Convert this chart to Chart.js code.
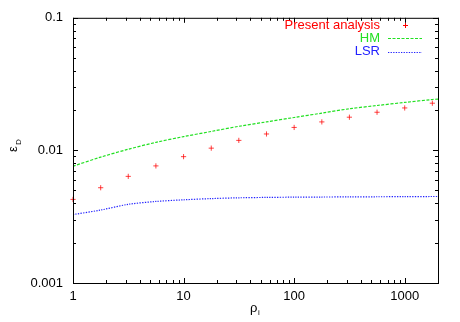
<!DOCTYPE html>
<html>
<head>
<meta charset="utf-8">
<script src="https://cdn.jsdelivr.net/npm/chart.js@4/dist/chart.umd.min.js"></script>
<style>
  html, body { margin: 0; padding: 0; background: #fff; }
  #wrap { width: 460px; height: 322px; position: relative; }
</style>
</head>
<body>
<div id="wrap"><canvas id="chart"></canvas></div>
<script>
// ── data ────────────────────────────────────────────────────────
const presentX = [1, 1.78, 3.16, 5.62, 10, 17.8, 31.6, 56.2, 100, 178, 316, 562, 1000, 1778];
const presentVals = [0.00427, 0.00523, 0.00637, 0.00764, 0.00897, 0.0104, 0.0119, 0.0133, 0.0149, 0.0164, 0.0178, 0.0194, 0.0209, 0.0227];

const modelX = [1, 1.78, 3.16, 5.62, 10, 17.8, 31.6, 56.2, 100, 178, 316, 562, 1000, 1778, 2000];
const hmVals = [0.0076, 0.0089, 0.0102, 0.0115, 0.0127, 0.0139, 0.0152, 0.0164, 0.0177, 0.0191, 0.0206, 0.0218, 0.0230, 0.0242, 0.0244];
const lsrVals = [0.00328, 0.00355, 0.00392, 0.00412, 0.00424, 0.00433, 0.00439, 0.00442, 0.00444, 0.00445, 0.00446, 0.00447, 0.00448, 0.00449, 0.00449];

const xTicks = [1, 10, 100, 1000];
const yTicks = [0.001, 0.01, 0.1];
const seriesLabels = ['Present analysis', 'HM', 'LSR'];

const FONT = 'Liberation Sans, Arial, Helvetica, sans-serif';

const zip = (xs, ys) => xs.map((x, i) => ({ x, y: ys[i] }));

// gnuplot style frame: box, inward major/minor ticks on all sides
const framePlugin = {
  id: 'frame',
  afterDatasetsDraw(chart) {
    const { ctx, chartArea: a, scales } = chart;
    const xs = scales.x, ys = scales.y;
    ctx.save();
    ctx.strokeStyle = '#000';
    ctx.lineWidth = 1;
    ctx.strokeRect(a.left + 0.5, a.top + 0.5, a.right - a.left, a.bottom - a.top);
    ctx.beginPath();
    for (let d = 1; d <= 1000; d *= 10) {
      for (let m = 1; m <= 9; m++) {
        const v = m * d;
        if (v > xs.max) break;
        const len = m === 1 ? 5 : 3;
        const px = Math.round(xs.getPixelForValue(v)) + 0.5;
        ctx.moveTo(px, a.bottom); ctx.lineTo(px, a.bottom - len);
        ctx.moveTo(px, a.top); ctx.lineTo(px, a.top + len);
      }
    }
    for (let d = 0.001; d <= 0.1 + 1e-9; d *= 10) {
      for (let m = 1; m <= 9; m++) {
        const v = m * d;
        if (v > ys.max * 1.0001) break;
        const len = m === 1 ? 5 : 3;
        const py = Math.round(ys.getPixelForValue(v)) + 0.5;
        ctx.moveTo(a.left, py); ctx.lineTo(a.left + len, py);
        ctx.moveTo(a.right, py); ctx.lineTo(a.right - len, py);
      }
    }
    ctx.stroke();

    // axis titles with subscripts
    ctx.fillStyle = '#000';
    ctx.textBaseline = 'alphabetic';
    ctx.font = '13px ' + FONT;
    ctx.fillText('ρ', 250, 312);
    ctx.font = '8px ' + FONT;
    ctx.fillText('i', 258, 315);

    ctx.translate(17, 152);
    ctx.rotate(-Math.PI / 2);
    ctx.font = '13px ' + FONT;
    ctx.fillText('ε', 0, 0);
    ctx.font = '8px ' + FONT;
    ctx.fillText('D', 7, 4);
    ctx.restore();
  },
  afterDraw(chart) {
    const { ctx } = chart;
    ctx.save();
    ctx.font = '13px ' + FONT;
    ctx.textAlign = 'right';
    ctx.textBaseline = 'middle';
    chart.data.datasets.forEach((ds, i) => {
      const y = 25 + i * 13.3;
      ctx.fillStyle = ds.legendColor;
      ctx.fillText(ds.label, 380, y);
      ctx.strokeStyle = ds.legendColor;
      ctx.lineWidth = 1;
      ctx.beginPath();
      if (ds.showLine === false) {
        ctx.moveTo(403, Math.round(y) + 0.5); ctx.lineTo(408, Math.round(y) + 0.5);
        ctx.moveTo(405.5, Math.round(y) - 2); ctx.lineTo(405.5, Math.round(y) + 3);
      } else {
        ctx.setLineDash(ds.borderDash || []);
        ctx.moveTo(388, Math.round(y) + 0.5); ctx.lineTo(422, Math.round(y) + 0.5);
      }
      ctx.stroke();
      ctx.setLineDash([]);
    });
    ctx.restore();
  },
};

new Chart(document.getElementById('chart'), {
  type: 'scatter',
  data: {
    datasets: [
      { label: seriesLabels[0], data: zip(presentX, presentVals), showLine: false, clip: 6,
        pointStyle: 'cross', pointRadius: 2.6, borderColor: 'rgba(255,0,0,0.75)', backgroundColor: 'rgba(255,0,0,0.75)',
        borderWidth: 1, legendColor: '#ff0000' },
      { label: seriesLabels[1], data: zip(modelX, hmVals), showLine: true, pointRadius: 0,
        borderColor: '#22e022', borderWidth: 1.2, borderDash: [3, 1.5], tension: 0.3, legendColor: '#22e022' },
      { label: seriesLabels[2], data: zip(modelX, lsrVals), showLine: true, pointRadius: 0,
        borderColor: '#2222ff', borderWidth: 1.2, borderDash: [1.3, 1.3], tension: 0.3, legendColor: '#2222ff' },
    ],
  },
  options: {
    responsive: true, maintainAspectRatio: false, animation: false,
    layout: { padding: { top: 15, right: 22, left: 0, bottom: 0 } },
    plugins: { legend: { display: false }, tooltip: { enabled: false } },
    scales: {
      x: {
        type: 'logarithmic', min: 1, max: 2000,
        afterBuildTicks: s => { s.ticks = xTicks.map(v => ({ value: v })); },
        afterFit: s => { s.height = 39; },
        ticks: { color: '#000', font: { family: FONT, size: 13 }, padding: 6, maxRotation: 0,
                 callback: v => String(v) },
        grid: { display: false, drawTicks: false },
        border: { display: false },
      },
      y: {
        type: 'logarithmic', min: 0.001, max: 0.1,
        afterBuildTicks: s => { s.ticks = yTicks.map(v => ({ value: v })); },
        afterFit: s => { s.width = 73; },
        ticks: { color: '#000', font: { family: FONT, size: 13 }, padding: 10,
                 callback: v => String(v) },
        grid: { display: false, drawTicks: false },
        border: { display: false },
      },
    },
  },
  plugins: [framePlugin],
});
</script>
</body>
</html>
